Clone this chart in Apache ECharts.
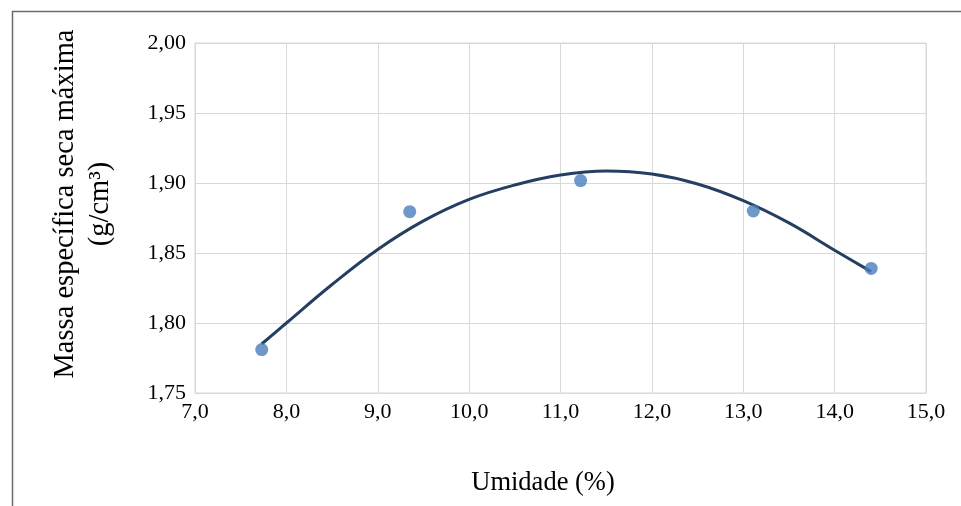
<!DOCTYPE html>
<html>
<head>
<meta charset="utf-8">
<script src="https://cdn.jsdelivr.net/npm/echarts@6/dist/echarts.min.js"></script>
<style>
html,body{margin:0;padding:0;background:#fff;}
#chart{width:961px;height:506px;}
</style>
</head>
<body>
<div id="chart"></div>
<script>
// Measured points: umidade (%) and massa específica seca máxima (g/cm³)
var umidade = [7.73, 9.35, 11.22, 13.11, 14.40];
var massa = [1.781, 1.8795, 1.9017, 1.880, 1.839];
// Trendline
var trendX = [7.73, 8.0, 8.5, 9.0, 9.5, 10.0, 10.5, 11.0, 11.5, 12.0, 12.5, 13.0, 13.5, 14.0, 14.40];
var trendY = [1.785, 1.800, 1.8275, 1.8525, 1.8729, 1.8883, 1.8986, 1.9057, 1.9086, 1.9064, 1.8993, 1.8874, 1.8715, 1.852, 1.8367];
var xTicks = [7, 8, 9, 10, 11, 12, 13, 14, 15];
var yTicks = [1.75, 1.80, 1.85, 1.90, 1.95, 2.00];
var xTitle = 'Umidade (%)';
var yTitle = 'Massa específica seca máxima\n(g/cm³)';

var chart = echarts.init(document.getElementById('chart'), null, {renderer: 'canvas'});
var font = '"Liberation Serif", "Times New Roman", serif';
var gridColor = '#d9d9d9';

var pts = umidade.map(function (x, i) { return [x, massa[i]]; });
var trend = trendX.map(function (x, i) { return [x, trendY[i]]; });

chart.setOption({
  animation: false,
  backgroundColor: '#fff',
  grid: {left: 195, right: 35, top: 43, bottom: 113, show: true, borderColor: gridColor, borderWidth: 1},
  xAxis: {
    type: 'value',
    min: xTicks[0], max: xTicks[xTicks.length - 1], interval: 1,
    axisLine: {show: true, lineStyle: {color: gridColor, width: 1}},
    axisTick: {show: false},
    splitLine: {show: true, lineStyle: {color: gridColor, width: 1}},
    axisLabel: {
      color: '#000', fontFamily: font, fontSize: 22, margin: 8,
      formatter: function (v) { return v.toFixed(1).replace('.', ','); }
    }
  },
  yAxis: {
    type: 'value',
    min: yTicks[0], max: yTicks[yTicks.length - 1], interval: 0.05,
    axisLine: {show: true, lineStyle: {color: gridColor, width: 1}},
    axisTick: {show: false},
    splitLine: {show: true, lineStyle: {color: gridColor, width: 1}},
    axisLabel: {
      color: '#000', fontFamily: font, fontSize: 22, margin: 9,
      formatter: function (v) { return v.toFixed(2).replace('.', ','); }
    }
  },
  graphic: [
    {type: 'rect', shape: {x: 12.5, y: 11.5, width: 1000, height: 600}, style: {fill: 'none', stroke: '#6b6b6b', lineWidth: 1.5}, z: 0, silent: true},
    {type: 'text', x: 543, y: 483, style: {text: xTitle, font: '26.5px ' + font, fill: '#000', align: 'center', verticalAlign: 'middle'}},
    {type: 'text', x: 83, y: 204, rotation: Math.PI / 2, style: {text: yTitle, font: '28.5px ' + font, lineHeight: 35, fill: '#000', align: 'center', verticalAlign: 'middle'}}
  ],
  series: [
    {
      type: 'line', data: trend, smooth: 0.4, symbol: 'none',
      lineStyle: {color: '#243f60', width: 3}, z: 3
    },
    {
      type: 'scatter', data: pts, symbol: 'circle', symbolSize: 13,
      itemStyle: {color: '#4a7ebb'}, z: 4
    }
  ]
});
</script>
</body>
</html>
